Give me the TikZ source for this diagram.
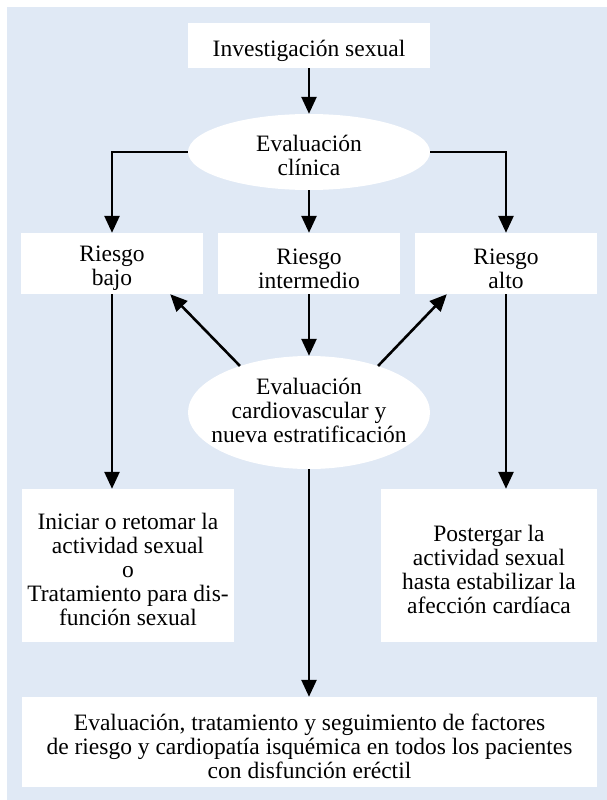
\documentclass[tikz,border=0pt]{standalone}
\usepackage{fontspec}
\setmainfont{Liberation Serif}
\usetikzlibrary{arrows.meta,shapes.geometric,calc}
\definecolor{panelblue}{RGB}{224,233,245}
\begin{document}
\begin{tikzpicture}[x=1pt,y=-1pt,
  every node/.style={inner sep=0pt},
  label text/.style={font=\fontsize{23.5}{24}\selectfont, align=center},
  box/.style={fill=white, draw=none},
  oval/.style={ellipse, fill=white, draw=none},
  link/.style={line width=2.6pt, -{Triangle[length=17pt,width=15pt]}}]
\useasboundingbox (0,0) rectangle (607,800);
\fill[panelblue] (7,7) rectangle (607,800);

% top entry
\node[box, minimum width=242, minimum height=45] (top) at (309,45.5) {};
\node[label text] (toptxt) at (309,51) {Investigación sexual};

% clinical evaluation
\node[oval, minimum width=242, minimum height=76] (ell1) at (309,152) {};
\node[label text] (ell1txt) at (309,155) {Evaluación\\clínica};

% risk levels
\node[box, minimum width=182, minimum height=61] (low)  at (112,263.5) {};
\node[box, minimum width=182, minimum height=61] (mid)  at (309,263.5) {};
\node[box, minimum width=182, minimum height=61] (high) at (506,263.5) {};
\node[label text] (lowtxt)  at (112,268.5) {Riesgo\\bajo};
\node[label text] (midtxt)  at (309,268.5) {Riesgo\\intermedio};
\node[label text] (hightxt) at (506,268.5) {Riesgo\\alto};

% cardiovascular evaluation
\node[oval, minimum width=242, minimum height=113] (ell2) at (309,412.5) {};
\node[label text] (ell2txt) at (309,410) {Evaluación\\cardiovascular y\\nueva estratificación};

% outcomes
\node[box, minimum width=212, minimum height=153] (ini) at (128,565.5) {};
\node[label text] (initxt) at (128,569.5)
  {Iniciar o retomar la\\actividad sexual\\o\\Tratamiento para dis-\\función sexual};
\node[box, minimum width=216, minimum height=153] (post) at (489,565.5) {};
\node[label text] (posttxt) at (489,569)
  {Postergar la\\actividad sexual\\hasta estabilizar la\\afección cardíaca};
\node[box, minimum width=575, minimum height=90] (bottom) at (309.5,742) {};
\node[label text] (bottomtxt) at (309.5,746)
  {Evaluación, tratamiento y seguimiento de factores\\de riesgo y cardiopatía isquémica en todos los pacientes\\con disfunción eréctil};

% arrow tips on the risk boxes
\coordinate (lowtip)  at ($(low.south east)+(-33,0)$);
\coordinate (hightip) at ($(high.south west)+(32,0)$);

% connectors
\draw[link] (top.south) -- (ell1.north);
\draw[link] (ell1.west) -| (low.north);
\draw[link] (ell1.east) -| (high.north);
\draw[link] (ell1.south) -- (mid.north);
\draw[link] (mid.south) -- (ell2.north);
\draw[link] (ell2.146) -- (lowtip);
\draw[link] (ell2.34) -- (hightip);
\draw[link] (low.south) -- (low.south |- ini.north);
\draw[link] (high.south) -- (high.south |- post.north);
\draw[link] (ell2.south) -- (ell2.south |- bottom.north);
\end{tikzpicture}
\end{document}
